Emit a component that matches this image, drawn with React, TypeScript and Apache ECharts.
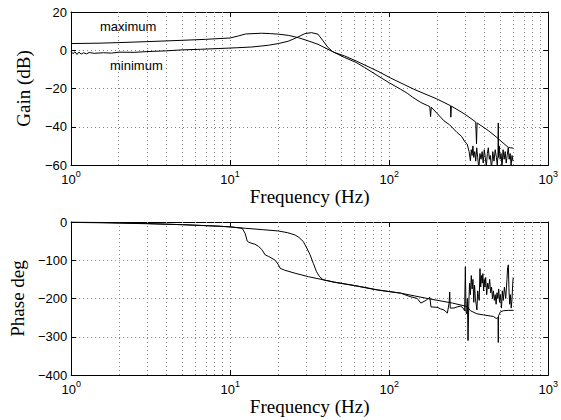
import React, { useEffect, useRef } from "react";
import * as echarts from "echarts";

// ---- data (frequency in Hz) ----
const DECADE_EXPONENTS = [0, 1, 2, 3];
const MINOR_GRID_FREQS = [2, 3, 4, 5, 6, 7, 8, 9, 20, 30, 40, 50, 60, 70, 80, 90, 200, 300, 400, 500, 600, 700, 800, 900];
const GAIN_TICKS = [-60, -40, -20, 0, 20];
const PHASE_TICKS = [-400, -300, -200, -100, 0];

const gainMaxFreq = [1, 1.5, 2, 3, 5, 7, 8.5, 10, 11.3, 12.5, 15.8, 18, 20.1, 23.2, 26.8, 31, 35.7, 43.3, 52.5, 62, 70, 85, 100, 118, 130, 140, 158, 175, 180, 182, 184, 200, 221, 240, 267, 285, 300, 309, 318, 324,
  328, 332, 336, 340, 345, 350, 355, 360, 366, 372, 378, 384, 390, 396, 402, 408, 414, 420, 426, 432, 440, 448, 456, 464, 472, 478, 483, 485, 487, 492, 498, 505, 512, 520, 528, 536, 544, 552, 560, 568, 576, 584, 592, 600];
const gainMaxDb = [3.5, 3.7, 4.0, 4.5, 5.2, 5.7, 6.1, 6.4, 7.5, 8.5, 8.9, 8.7, 8.4, 7.8, 6.6, 4.9, 3.1, -0.4, -3.8, -6.4, -9, -13.4, -17, -20.4, -22.5, -24.5, -27.3, -29, -29.5, -34.7, -29.8, -33, -36.9, -39, -43, -45, -48, -49, -53, -57.8,
  -52, -55, -50, -56, -53, -58, -51, -56, -62, -54, -57, -53, -59, -52, -56, -61, -54, -51, -57, -55, -62, -53, -58, -52, -56, -60, -55, -38, -56, -50, -57, -54, -61, -52, -57, -53, -59, -55, -51, -57, -54, -60, -55, -58];

const gainMinFreq = [1, 1.03, 1.06, 1.09, 1.12, 1.16, 1.2, 1.25, 1.3, 1.4, 1.6, 1.8, 2, 2.5, 3, 4, 5, 6.5, 8.5, 11, 13.7, 17.4, 20.1, 23.2, 26.8, 29.5, 32.5, 35.7, 38.4, 41.3, 44.4, 52.5, 62, 85, 102, 143, 200, 243, 244, 246, 300, 350, 354, 357, 420, 475, 520, 561, 580, 602];
const gainMinDb = [-0.5, -1.8, -0.8, -2.2, -1.0, -2.0, -1.3, -1.9, -1.2, -1.6, -1.3, -1.5, -1.0, -1.1, -0.7, -0.3, 0.2, 0.5, 0.9, 1.3, 1.7, 2.6, 3.5, 4.7, 7, 8.7, 9.2, 8.4, 4.9, 1.4, -0.9, -3.0, -5.6, -11, -14.5, -20.4, -25.5, -29, -35, -29.2, -33.5, -37.5, -49, -38, -42, -45.6, -48.5, -50.8, -51, -51.2];

const phaseAFreq = [1, 1.5, 2, 3, 5, 7, 8.5, 10, 12.5, 16, 20.1, 23, 25.6, 27, 28.8, 30.3, 31.8, 33.3, 34.9, 36.5, 38.4, 45, 60.6, 84.7, 118, 174, 250, 309, 324, 356, 392, 452, 470, 483, 485, 487, 500, 521, 561, 602];
const phaseADeg = [-1, -2, -3, -4.5, -7, -9.5, -11, -13, -16.5, -20, -23.5, -28, -34, -40, -51, -68, -86, -108, -130, -143, -151, -157, -166, -177.5, -186, -200, -212, -221, -232, -240, -243, -247, -252, -250, -315, -245, -235, -232, -231, -231];

const phaseBFreq = [1, 2, 3, 5, 8.5, 10, 11.9, 12.4, 12.8, 13.1, 13.7, 14.3, 15.1, 15.8, 16.6, 17.4, 18.3, 19.2, 20.1, 20.6, 22, 25.6, 31, 38.4, 45, 60.6, 84.7, 118, 135, 150, 158, 170, 180, 183, 200, 210, 221, 232, 238, 240, 242, 255, 267, 280, 290, 298,
  301, 304, 307, 310, 313, 316, 320, 324, 328, 332, 336, 340, 344, 348, 352, 356, 360, 364, 368, 372, 376, 380, 384, 388, 392, 396, 400, 404, 410, 416, 422, 428, 434, 440, 446, 452, 458, 464, 470, 476, 482, 488, 494, 500, 508, 514, 521, 530, 540, 550, 555, 561, 566, 572, 578, 585, 592, 597, 602];
const phaseBDeg = [0, -2, -4, -7, -11, -12.5, -16.5, -29.5, -50, -53, -56, -58, -64, -72, -86, -90, -95, -100, -112, -121, -126, -134, -143, -151, -157.5, -166.5, -178, -186, -195, -200, -212, -205, -197, -222, -223, -227, -230, -238, -212, -183, -225, -225, -222, -220, -224, -232,
  -117, -235, -240, -200, -310, -220, -160, -190, -140, -175, -150, -210, -165, -200, -215, -230, -180, -195, -205, -122, -170, -140, -160, -135, -180, -150, -170, -145, -190, -160, -175, -150, -185, -170, -200, -180, -205, -190, -215, -185, -200, -175, -210, -190, -225, -180, -205, -170, -200, -150, -120, -112, -175, -215, -190, -225, -200, -165, -145];

const toPairs = (f: number[], v: number[]) => f.map((x, i) => [Math.log10(x), v[i]]);

const SANS = "'Liberation Sans', Arial, Helvetica, sans-serif";
const SERIF = "'Liberation Serif', 'Times New Roman', Times, serif";
const GRID_DOT = { color: "#808080", type: [1, 3] as number[], width: 1 };

function xAxes(gridIndex: number) {
  return [
    {
      type: "value",
      gridIndex,
      min: DECADE_EXPONENTS[0],
      max: DECADE_EXPONENTS[DECADE_EXPONENTS.length - 1],
      interval: 1,
      name: "Frequency (Hz)",
      nameLocation: "middle",
      nameGap: 17,
      nameTextStyle: { fontFamily: SERIF, fontSize: 19, color: "#000", verticalAlign: "top" },
      axisLine: { onZero: false, lineStyle: { color: "#000", width: 1 } },
      axisTick: { inside: true, length: 5, lineStyle: { color: "#000" } },
      axisLabel: {
        margin: 5,
        formatter: (v: number) => `{b|10}{s|${v}}`,
        rich: {
          b: { fontFamily: SANS, fontSize: 13, color: "#000", lineHeight: 16, verticalAlign: "bottom" },
          s: { fontFamily: SANS, fontSize: 9, color: "#000", lineHeight: 16, verticalAlign: "bottom", padding: [0, 0, 8, 0] },
        },
      },
      splitLine: { show: true, lineStyle: GRID_DOT },
    },
    {
      type: "value",
      gridIndex,
      position: "top",
      min: DECADE_EXPONENTS[0],
      max: DECADE_EXPONENTS[DECADE_EXPONENTS.length - 1],
      interval: 1,
      axisLine: { onZero: false, lineStyle: { color: "#000", width: 1 } },
      axisTick: { inside: true, length: 5, lineStyle: { color: "#000" } },
      axisLabel: { show: false },
      splitLine: { show: false },
    },
  ];
}

function yAxes(gridIndex: number, ticks: number[], name: string, nameGap: number) {
  const min = ticks[0];
  const max = ticks[ticks.length - 1];
  const interval = ticks[1] - ticks[0];
  return [
    {
      type: "value",
      gridIndex,
      min,
      max,
      interval,
      name,
      nameLocation: "middle",
      nameGap,
      nameTextStyle: { fontFamily: SERIF, fontSize: 19, color: "#000" },
      axisLine: { show: true, onZero: false, lineStyle: { color: "#000", width: 1 } },
      axisTick: { show: true, inside: true, length: 5, lineStyle: { color: "#000" } },
      axisLabel: {
        margin: 4,
        fontFamily: SANS,
        fontSize: 13,
        color: "#000",
        formatter: (v: number) => String(v).replace("-", "\u2212"),
      },
      splitLine: { show: true, lineStyle: GRID_DOT },
    },
    {
      type: "value",
      gridIndex,
      position: "right",
      min,
      max,
      interval,
      axisLine: { show: true, onZero: false, lineStyle: { color: "#000", width: 1 } },
      axisTick: { show: true, inside: true, length: 5, lineStyle: { color: "#000" } },
      axisLabel: { show: false },
      splitLine: { show: false },
    },
  ];
}

const minorMarkLine = {
  silent: true,
  symbol: "none",
  label: { show: false },
  lineStyle: GRID_DOT,
  data: MINOR_GRID_FREQS.map((f) => ({ xAxis: Math.log10(f) })),
};

function lineSeries(xAxisIndex: number, yAxisIndex: number, data: number[][], extra: any = {}) {
  return {
    type: "line",
    xAxisIndex,
    yAxisIndex,
    data,
    showSymbol: false,
    symbol: "none",
    clip: true,
    lineStyle: { color: "#000", width: 1 },
    z: 5,
    ...extra,
  };
}

export default function App() {
  const ref = useRef<HTMLDivElement>(null);
  useEffect(() => {
    if (!ref.current) return;
    const chart = echarts.init(ref.current, undefined, { renderer: "svg" });
    const xs = [...xAxes(0), ...xAxes(1)];
    const ys = [...yAxes(0, GAIN_TICKS, "Gain (dB)", 38), ...yAxes(1, PHASE_TICKS, "Phase deg", 38)];
    chart.setOption({
      animation: false,
      backgroundColor: "#fff",
      grid: [
        { left: 71, top: 12, width: 482, height: 153 },
        { left: 71, top: 222, width: 482, height: 153 },
      ],
      xAxis: xs,
      yAxis: ys,
      series: [
        lineSeries(0, 0, toPairs(gainMaxFreq, gainMaxDb), { markLine: minorMarkLine }),
        lineSeries(0, 0, toPairs(gainMinFreq, gainMinDb)),
        lineSeries(2, 2, toPairs(phaseAFreq, phaseADeg), { markLine: minorMarkLine }),
        lineSeries(2, 2, toPairs(phaseBFreq, phaseBDeg)),
      ],
      graphic: [
        { type: "text", left: 100, top: 20, style: { text: "maximum", fontFamily: SANS, fontSize: 13, fill: "#000" } },
        { type: "text", left: 110, top: 59, style: { text: "minimum", fontFamily: SANS, fontSize: 13, fill: "#000" } },
      ],
    });
    return () => chart.dispose();
  }, []);
  return <div ref={ref} style={{ width: 561, height: 420, position: "absolute", left: 0, top: 0 }} />;
}
